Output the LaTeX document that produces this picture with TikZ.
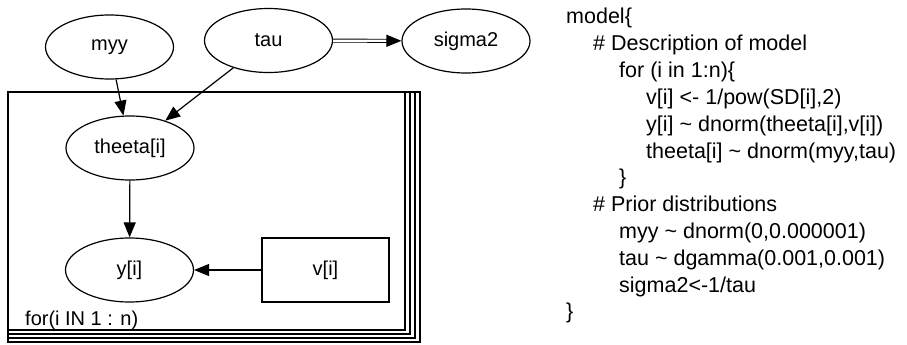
\documentclass[tikz,border=0pt]{standalone}
\usepackage{fontspec}
\setmainfont{Liberation Sans}
\usetikzlibrary{shapes.geometric,arrows.meta,positioning}

\begin{document}
\begin{tikzpicture}[
	x=1pt, y=-1pt,
	font=\fontsize{20}{24}\selectfont,
	>={Triangle[length=15pt,width=12pt]},
	sto/.style={ellipse, draw=black, line width=1.2pt, minimum width=128pt, minimum height=64pt, inner sep=0pt},
	det/.style={rectangle, draw=black, line width=1.2pt, minimum width=127pt, minimum height=64pt, inner sep=0pt},
	seta/.style={->, line width=1.2pt},
	cod/.style={anchor=base west, inner sep=0pt, font=\fontsize{21.5}{27}\selectfont},
]
\useasboundingbox (0,0) rectangle (907,345);
% plate
\foreach \k in {3,2,1} \draw[line width=1.2pt] (8,92) rectangle (405+5*\k,330+4*\k);
\draw[line width=1.8pt] (8,92) rectangle (405,330);
\node[anchor=base west, inner sep=0pt] (lab) at (25,325) {for(i IN 1 : n)};
% graph
\node[sto] (myy) at (109.5,47) {myy};
\node[sto] (tau) at (268.5,40.5) {tau};
\node[sto] (sig) at (466,41) {sigma2};
\node[sto] (th) at (130,148) {theeta[i]};
\node[sto] (y) at (129.5,270) {y[i]};
\node[det] (v) at (325.5,270) {v[i]};
\draw[seta] (myy)--(th); \draw[seta] (tau)--(th); \draw[seta] (th)--(y); \draw[seta] (v)--(y);
\draw[double, double distance=2.2pt, line width=0.9pt, shorten >=14pt] (tau)--(sig);
\draw[seta, shorten <=54pt] (tau)--(sig);
% code
\node[cod] (c1) at (566,24) {model\{};
\node[cod] (c2) at (593,50.8) {\# Description of model};
\node[cod] (c3) at (619,77.6) {for (i in 1:n)\{};
\node[cod] (c4) at (646,104.4) {v[i] <- 1/pow(SD[i],2)};
\node[cod] (c5) at (646,131.2) {y[i] \textasciitilde{} dnorm(theeta[i],v[i])};
\node[cod] (c6) at (646,158) {theeta[i] \textasciitilde{} dnorm(myy,tau)};
\node[cod] (c7) at (619,184.8) {\}};
\node[cod] (c8) at (593,211.6) {\# Prior distributions};
\node[cod] (c9) at (619,238.4) {myy \textasciitilde{} dnorm(0,0.000001)};
\node[cod] (c10) at (619,265.2) {tau \textasciitilde{} dgamma(0.001,0.001)};
\node[cod] (c11) at (619,292) {sigma2<-1/tau};
\node[cod] (c12) at (566,318.8) {\}};
\end{tikzpicture}
\end{document}
